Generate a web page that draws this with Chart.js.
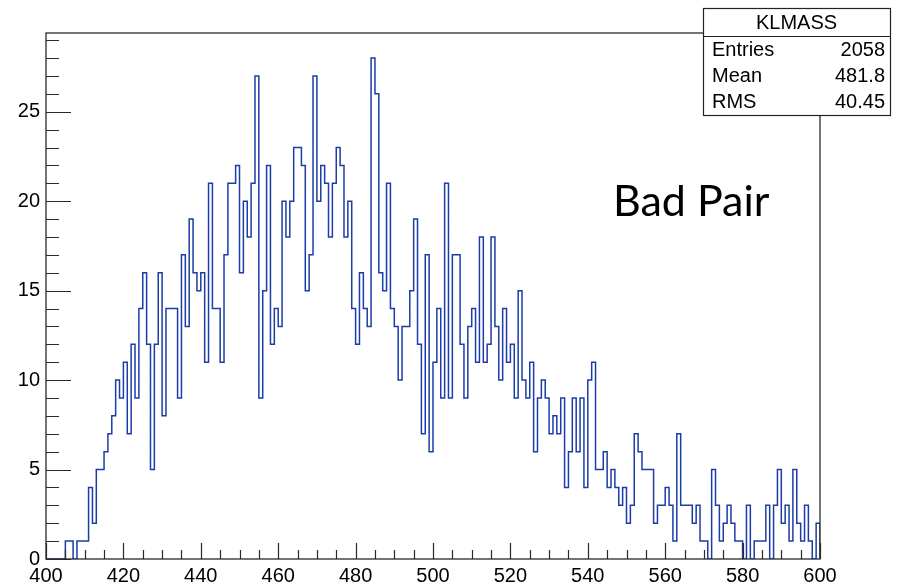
<!DOCTYPE html>
<html>
<head>
<meta charset="utf-8">
<script src="https://cdn.jsdelivr.net/npm/chart.js@4.4.1/dist/chart.umd.min.js"></script>
<style>
  body { margin: 0; background: #fff; }
  #wrap { width: 904px; height: 583px; position: relative; }
</style>
</head>
<body>
<div id="wrap"><canvas id="klmass" width="904" height="583"></canvas></div>
<script>
// histogram KLMASS, 200 bins of width 1 from 400 to 600
const binLow = 400;
const binWidth = 1;
const counts = [
    0, 0, 0, 0, 0, 1, 1, 0, 1, 1,
    1, 4, 2, 5, 5, 6, 7, 8, 10, 9,
    11, 7, 12, 9, 14, 16, 12, 5, 12, 16,
    8, 14, 14, 14, 9, 17, 13, 19, 16, 15,
    16, 11, 21, 14, 14, 11, 17, 21, 21, 22,
    16, 20, 18, 21, 27, 9, 15, 22, 12, 14,
    13, 20, 18, 20, 23, 23, 22, 15, 17, 27,
    20, 22, 21, 18, 21, 23, 22, 18, 20, 14,
    12, 16, 14, 13, 28, 26, 16, 15, 21, 14,
    13, 10, 13, 13, 15, 19, 12, 7, 17, 6,
    11, 14, 9, 21, 9, 17, 17, 12, 9, 13,
    14, 11, 18, 11, 12, 18, 13, 10, 14, 11,
    12, 9, 15, 10, 9, 11, 6, 9, 10, 9,
    7, 8, 7, 9, 4, 6, 9, 6, 9, 4,
    10, 11, 5, 5, 6, 4, 5, 4, 3, 4,
    2, 3, 7, 6, 5, 5, 5, 2, 3, 3,
    4, 3, 1, 7, 3, 3, 3, 2, 3, 1,
    1, 0, 5, 3, 1, 2, 3, 2, 1, 1,
    0, 3, 0, 1, 1, 1, 3, 0, 3, 5,
    2, 3, 1, 5, 2, 1, 3, 1, 0, 2
];
const xTickLabels = [400, 420, 440, 460, 480, 500, 520, 540, 560, 580, 600];
const yTickLabels = [0, 5, 10, 15, 20, 25];
const statsTitle = 'KLMASS';
const statsNames = ['Entries', 'Mean', 'RMS'];
const statsValues = ['2058', '481.8', '40.45'];
const note = 'Bad Pair';

// outline points at the low edge of each bin, closed back to 0 at the end
const points = counts.map((c, i) => ({ x: binLow + i * binWidth, y: c }));
points.push({ x: binLow + counts.length * binWidth, y: 0 });

const AXIS = '#2a2a2a';
const FONT = '"Liberation Sans", Arial, sans-serif';

// ROOT style frame, inner ticks, stats box and the text label
const rootFrame = {
    id: 'rootFrame',
    afterDraw(chart) {
        const ctx = chart.ctx;
        const a = chart.chartArea;
        const xs = chart.scales.x;
        const ys = chart.scales.y;
        ctx.save();
        ctx.strokeStyle = AXIS;
        ctx.lineWidth = 1.3;
        ctx.strokeRect(a.left, a.top, a.right - a.left, a.bottom - a.top);

        ctx.lineWidth = 1.2;
        ctx.beginPath();
        for (let v = 0; v <= ys.max; v++) {
            const y = Math.round(ys.getPixelForValue(v)) + 0.5;
            const len = v % 5 === 0 ? 25 : 13;
            ctx.moveTo(a.left, y);
            ctx.lineTo(a.left + len, y);
        }
        for (let v = xs.min; v <= xs.max; v += 5) {
            const x = Math.round(xs.getPixelForValue(v)) + 0.5;
            const len = v % 20 === 0 ? 16 : 9;
            ctx.moveTo(x, a.bottom);
            ctx.lineTo(x, a.bottom - len);
        }
        ctx.stroke();

        // stats box
        const bx = 703, by = 8, bw = 187, bh = 107, hh = 28;
        ctx.fillStyle = '#fff';
        ctx.fillRect(bx, by, bw, bh);
        ctx.strokeStyle = '#222';
        ctx.lineWidth = 1.2;
        ctx.strokeRect(bx + 0.5, by + 0.5, bw, bh);
        ctx.beginPath();
        ctx.moveTo(bx, by + hh + 0.5);
        ctx.lineTo(bx + bw, by + hh + 0.5);
        ctx.stroke();
        ctx.fillStyle = '#000';
        ctx.font = '20px ' + FONT;
        ctx.textBaseline = 'middle';
        ctx.textAlign = 'center';
        ctx.fillText(statsTitle, bx + bw / 2, by + hh / 2 + 1);
        statsNames.forEach((name, i) => {
            const y = by + hh + 14 + i * 26;
            ctx.textAlign = 'left';
            ctx.fillText(name, bx + 9, y);
            ctx.textAlign = 'right';
            ctx.fillText(statsValues[i], bx + bw - 5, y);
        });

        // label inside the plot
        ctx.font = '43px Lato, "Open Sans", sans-serif';
        ctx.textAlign = 'left';
        ctx.textBaseline = 'alphabetic';
        ctx.fillText(note, 613, 216);
        ctx.restore();
    }
};

const ctx = document.getElementById('klmass').getContext('2d');
new Chart(ctx, {
    type: 'line',
    data: {
        datasets: [{
            label: statsTitle,
            data: points,
            stepped: 'before', // hold each bin's count from its low edge to the next one
            borderColor: '#1c3da8',
            borderWidth: 1.5,
            pointRadius: 0,
            fill: false
        }]
    },
    options: {
        responsive: false,
        animation: false,
        devicePixelRatio: 1,
        layout: { padding: { left: 0, right: 84, top: 33, bottom: 0 } },
        plugins: {
            legend: { display: false },
            tooltip: { enabled: false }
        },
        scales: {
            x: {
                type: 'linear',
                min: binLow,
                max: binLow + counts.length * binWidth,
                grid: { display: false, drawTicks: false },
                border: { display: false },
                afterBuildTicks: s => { s.ticks = xTickLabels.map(v => ({ value: v })); },
                afterFit: s => { s.height = 24; },
                ticks: {
                    color: '#000',
                    padding: 5,
                    maxRotation: 0,
                    autoSkip: false,
                    font: { family: FONT, size: 20 }
                }
            },
            y: {
                min: 0,
                max: 29.4,
                grid: { display: false, drawTicks: false },
                border: { display: false },
                afterBuildTicks: s => { s.ticks = yTickLabels.map(v => ({ value: v })); },
                afterFit: s => { s.width = 46; },
                ticks: {
                    color: '#000',
                    padding: 6,
                    font: { family: FONT, size: 20 }
                }
            }
        }
    },
    plugins: [rootFrame]
});
</script>
</body>
</html>
